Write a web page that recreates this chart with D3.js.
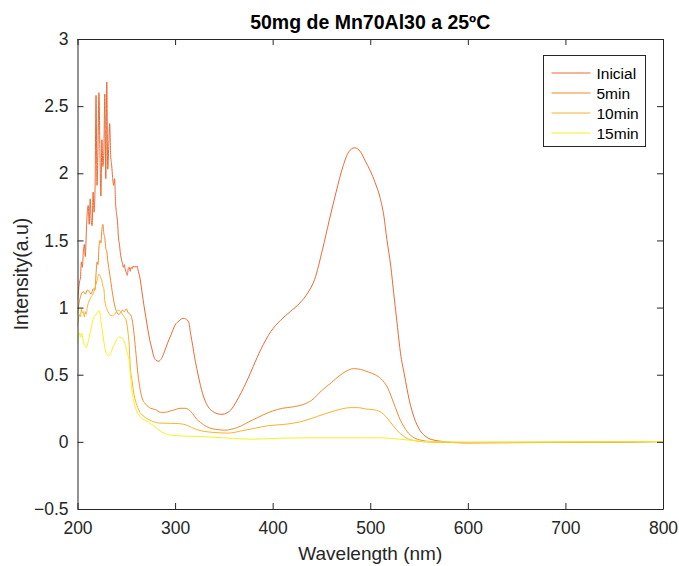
<!DOCTYPE html>
<html>
<head>
<meta charset="utf-8">
<script src="https://cdn.jsdelivr.net/npm/d3@7/dist/d3.min.js"></script>
<style>
  html, body { margin: 0; padding: 0; background: #fff; }
  svg { display: block; font-family: "Liberation Sans", Arial, Helvetica, sans-serif; }
</style>
</head>
<body>
<svg id="chart" width="679" height="566"></svg>
<script>
// Absorbance spectra, [wavelength (nm), intensity (a.u.)]
const inicial = [
  [200,1.06],[201,1.12],[202,1.19],[203,1.22],[204,1.34],[205,1.30],[206,1.42],[207,1.47],[208,1.38],
  [209,1.55],[210,1.71],[211,1.76],[212,1.62],[213,1.81],[214,1.65],[215,1.61],[216,1.86],[217,1.71],
  [218,1.90],[219,2.58],[220,1.91],[221,2.20],[222,2.60],[223,2.16],[224,1.83],[225,2.25],[226,2.05],
  [227,2.16],[228,2.59],[229,1.96],[230,2.68],[231,2.03],[232,2.20],[233,2.37],[234,2.13],[235,2.06],
  [236,1.97],[237,1.91],[238,1.96],[239,1.78],[240,1.70],[241,1.64],[242,1.52],[243,1.47],[244,1.40],
  [245,1.36],[246,1.33],[247,1.30],[248,1.32],[249,1.28],[250,1.26],[251,1.24],[252,1.29],[253,1.30],
  [254,1.27],[255,1.30],[256,1.29],[257,1.31],[258,1.30],[259,1.31],[260,1.30],[261,1.31],[262,1.28],
  [264,1.22],[266,1.12],[268,1.02],[270,0.93],[272,0.84],[274,0.76],[276,0.70],[278,0.64],[280,0.61],
  [283,0.60],[286,0.62],[289,0.67],[292,0.73],[296,0.80],[300,0.87],[304,0.90],[308,0.92],[311,0.915],
  [314,0.89],[316,0.80],[318,0.72],[320,0.63],[323,0.52],[326,0.42],[330,0.32],[334,0.26],[338,0.23],
  [343,0.21],[348,0.205],[353,0.215],[358,0.245],[362,0.29],[368,0.37],[374,0.46],[380,0.56],[388,0.69],
  [398,0.82],[408,0.905],[418,0.97],[428,1.035],[436,1.11],[443,1.21],[451,1.43],[458,1.65],[465,1.86],
  [472,2.05],[478,2.16],[484,2.19],[490,2.16],[495,2.09],[500,2.02],[505,1.93],[510,1.82],[514,1.68],
  [517,1.51],[521,1.31],[524,1.11],[528,0.85],[531,0.66],[535,0.50],[540,0.31],[545,0.18],[551,0.085],
  [556,0.045],[560,0.025],[570,0.007],[585,-0.005],[600,-0.008],[650,-0.006],[700,-0.004],[750,-0.002],
  [800,0.003]
];

const min5 = [
  [200,0.95],[202,1.05],[204,1.10],[206,1.12],[208,1.10],[210,1.13],[212,1.12],[214,1.10],[216,1.14],
  [218,1.13],[219,1.25],[220,1.34],[221,1.32],[222,1.45],[223,1.50],[224,1.48],[225,1.58],[226,1.62],
  [227,1.55],[228,1.52],[229,1.44],[230,1.42],[231,1.35],[232,1.30],[234,1.20],[236,1.10],[238,1.02],
  [240,0.97],[242,0.95],[244,0.96],[246,0.98],[248,0.97],[250,0.99],[252,0.96],[254,0.95],[256,0.91],
  [258,0.80],[260,0.65],[262,0.50],[264,0.40],[266,0.33],[270,0.28],[275,0.25],[280,0.24],[285,0.22],
  [290,0.22],[295,0.23],[300,0.24],[305,0.25],[310,0.25],[314,0.24],[318,0.21],[322,0.17],[326,0.145],
  [332,0.115],[338,0.098],[345,0.09],[352,0.087],[358,0.095],[364,0.107],[372,0.135],[380,0.165],
  [390,0.20],[400,0.23],[410,0.25],[420,0.26],[432,0.28],[440,0.31],[450,0.38],[460,0.44],[468,0.49],
  [475,0.525],[483,0.545],[490,0.54],[498,0.52],[505,0.50],[511,0.47],[518,0.40],[524,0.29],[531,0.16],
  [538,0.075],[545,0.03],[552,0.012],[562,0.002],[580,-0.004],[600,-0.005],[650,-0.004],[700,-0.003],
  [750,-0.002],[800,0.002]
];

const min10 = [
  [200,0.86],[201,0.92],[202,0.95],[203,0.93],[204,0.99],[205,0.96],[206,0.97],[207,0.93],[208,0.97],
  [209,0.95],[210,1.00],[212,1.05],[214,1.08],[216,1.10],[218,1.15],[220,1.20],[222,1.25],[223,1.24],
  [224,1.22],[225,1.20],[226,1.16],[227,1.14],[228,1.05],[230,0.99],[232,0.96],[234,0.94],[236,0.94],
  [238,0.95],[240,0.97],[242,0.98],[244,0.97],[246,0.95],[248,0.93],[250,0.90],[251,0.86],[252,0.80],
  [253,0.72],[254,0.57],[256,0.45],[258,0.35],[261,0.27],[264,0.22],[268,0.19],[272,0.17],[276,0.156],
  [284,0.14],[295,0.138],[305,0.135],[311,0.127],[317,0.107],[322,0.092],[327,0.082],[334,0.074],
  [340,0.07],[354,0.065],[362,0.072],[368,0.082],[381,0.10],[395,0.12],[412,0.13],[429,0.15],[446,0.19],
  [463,0.23],[480,0.255],[488,0.255],[495,0.245],[503,0.24],[510,0.225],[517,0.18],[524,0.115],
  [531,0.06],[538,0.025],[546,0.008],[556,0.0],[570,-0.003],[600,-0.004],[650,-0.003],[700,-0.002],
  [750,-0.001],[800,0.002]
];

const min15 = [
  [200,0.73],[201,0.80],[202,0.81],[203,0.78],[204,0.81],[205,0.79],[206,0.75],[208,0.71],[209,0.70],
  [210,0.72],[212,0.78],[214,0.85],[216,0.91],[218,0.94],[220,0.96],[222,0.98],[223,0.96],[224,0.90],
  [226,0.80],[228,0.70],[230,0.65],[232,0.64],[234,0.66],[236,0.70],[238,0.73],[240,0.76],[243,0.78],
  [246,0.77],[249,0.72],[251,0.66],[253,0.60],[254.5,0.47],[256,0.37],[258,0.29],[260,0.24],[264,0.19],
  [268,0.165],[273,0.145],[278,0.12],[283,0.09],[290,0.06],[298,0.048],[310,0.043],[326,0.04],
  [343,0.033],[360,0.025],[380,0.02],[411,0.028],[440,0.03],[470,0.03],[495,0.03],[511,0.03],[530,0.02],
  [551,0.005],[570,0.0],[600,-0.002],[650,-0.002],[700,-0.001],[750,0.0],[800,0.002]
];

const seriesNames = ["Inicial", "5min", "10min", "15min"];
const seriesData = [inicial, min5, min10, min15];
const seriesColors = ["#ea6a34", "#f08a2e", "#f5b42c", "#f2f226"];

const xTicks = [200, 300, 400, 500, 600, 700, 800];
const yTicks = [-0.5, 0, 0.5, 1, 1.5, 2, 2.5, 3];

const titleText = "50mg de Mn70Al30 a 25ºC";
const xLabel = "Wavelength (nm)";
const yLabel = "Intensity(a.u)";

// Layout
const plot = { left: 77.5, right: 663, top: 39, bottom: 509 };
const ink = "#262626";

const svg = d3.select("#chart");

const x = d3.scaleLinear().domain([200, 800]).range([plot.left, plot.right]);
const y = d3.scaleLinear().domain([-0.5, 3]).range([plot.bottom, plot.top]);

// Spectra
const line = d3.line()
  .x(d => x(d[0]))
  .y(d => y(d[1]))
  .curve(d3.curveMonotoneX);

svg.append("clipPath").attr("id", "plotClip")
  .append("rect")
  .attr("x", plot.left).attr("y", plot.top)
  .attr("width", plot.right - plot.left).attr("height", plot.bottom - plot.top);

svg.append("g").attr("clip-path", "url(#plotClip)")
  .selectAll("path")
  .data(seriesData)
  .join("path")
  .attr("d", d => line(d))
  .attr("fill", "none")
  .attr("stroke", (d, i) => seriesColors[i])
  .attr("stroke-width", 1)
  .attr("stroke-linejoin", "round");

// Axes (ticks inside, box on)
const tickLen = 6;
const axisBottom = d3.axisBottom(x).tickValues(xTicks).tickSizeInner(-tickLen).tickSizeOuter(0).tickPadding(13)
  .tickFormat(d3.format("d"));
const axisTop = d3.axisTop(x).tickValues(xTicks).tickSizeInner(-tickLen).tickSizeOuter(0).tickFormat("");
const axisLeft = d3.axisLeft(y).tickValues(yTicks).tickSizeInner(-tickLen).tickSizeOuter(0).tickPadding(9)
  .tickFormat(d => d3.format("")(d));
const axisRight = d3.axisRight(y).tickValues(yTicks).tickSizeInner(-tickLen).tickSizeOuter(0).tickFormat("");

function styleAxis(g) {
  g.select(".domain").attr("stroke", ink).attr("stroke-width", 1);
  g.selectAll(".tick line").attr("stroke", ink).attr("stroke-width", 1);
  g.selectAll(".tick text").attr("fill", ink).style("font-size", "17.5px")
    .style("font-family", "'Liberation Sans', Arial, sans-serif");
}

svg.append("g").attr("transform", `translate(0,${plot.bottom})`).call(axisBottom).call(styleAxis);
svg.append("g").attr("transform", `translate(0,${plot.top})`).call(axisTop).call(styleAxis);
svg.append("g").attr("transform", `translate(${plot.left},0)`).call(axisLeft).call(styleAxis);
svg.append("g").attr("transform", `translate(${plot.right},0)`).call(axisRight).call(styleAxis);

// Title and axis labels
svg.append("text")
  .attr("x", (plot.left + plot.right) / 2).attr("y", 29)
  .attr("text-anchor", "middle").attr("fill", "#000")
  .style("font-size", "19.5px").style("font-weight", "bold")
  .text(titleText);

svg.append("text")
  .attr("x", (plot.left + plot.right) / 2).attr("y", 560)
  .attr("text-anchor", "middle").attr("fill", ink)
  .style("font-size", "19px")
  .text(xLabel);

svg.append("text")
  .attr("transform", `translate(28,${(plot.top + plot.bottom) / 2}) rotate(-90)`)
  .attr("text-anchor", "middle").attr("fill", ink)
  .style("font-size", "19.5px")
  .text(yLabel);

// Legend
const legend = { x: 543.5, y: 55.5, w: 102, h: 91, rowY: 17.5, rowH: 20 };
const lg = svg.append("g").attr("transform", `translate(${legend.x},${legend.y})`);
lg.append("rect")
  .attr("width", legend.w).attr("height", legend.h)
  .attr("fill", "#fff").attr("stroke", ink).attr("stroke-width", 1);
const rows = lg.selectAll("g.row").data(seriesNames).join("g")
  .attr("class", "row")
  .attr("transform", (d, i) => `translate(0,${legend.rowY + i * legend.rowH})`);
rows.append("line")
  .attr("x1", 8).attr("x2", 47).attr("y1", 0).attr("y2", 0)
  .attr("stroke", (d, i) => seriesColors[i]).attr("stroke-width", 1);
rows.append("text")
  .attr("x", 53).attr("y", 0).attr("dy", "0.36em")
  .attr("fill", "#000").style("font-size", "15.5px")
  .text(d => d);
</script>
</body>
</html>
